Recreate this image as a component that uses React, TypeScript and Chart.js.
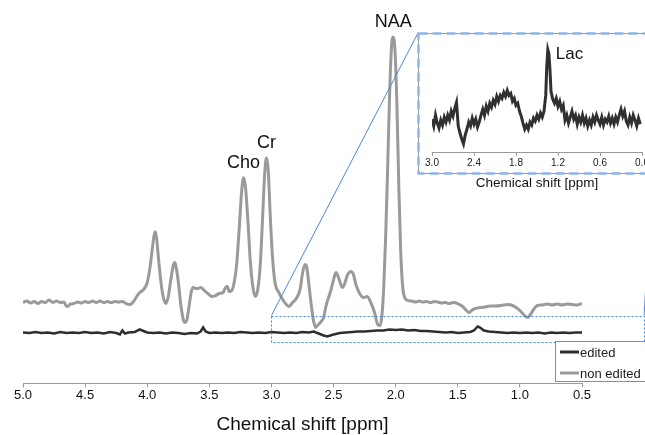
import React, { useEffect, useRef } from 'react';
import { Chart, registerables } from 'chart.js';
Chart.register(...registerables);

const FONT = '"Liberation Sans", Arial, Helvetica, sans-serif';

// ---------- DATA ----------
const seriesLabels = ['edited', 'non edited'];
const seriesColors = ['#2e2e2e', '#9a9a9a'];

const mainTickRange = [0.5, 5.0];
const mainTickStep = 0.5;
const insetTickRange = [0.0, 3.0];
const insetTickStep = 0.6;

// non edited spectrum (ppm, intensity a.u.)
const nonEditedPpm = [
  5.00, 4.97, 4.94, 4.91, 4.88, 4.85, 4.82, 4.79, 4.76, 4.73, 4.70, 4.67, 4.655, 4.64, 4.62, 4.59, 4.56, 4.53, 4.50, 4.47,
  4.44, 4.41, 4.38, 4.35, 4.32, 4.29, 4.26, 4.23, 4.20, 4.17, 4.14, 4.11, 4.08, 4.06, 4.03, 4.00, 3.98, 3.96, 3.945, 3.935,
  3.925, 3.91, 3.89, 3.87, 3.85, 3.83, 3.81, 3.79, 3.78, 3.77, 3.75, 3.73, 3.71, 3.695, 3.68, 3.66, 3.645, 3.63, 3.60, 3.57,
  3.54, 3.51, 3.48, 3.45, 3.42, 3.39, 3.37, 3.355, 3.34, 3.32, 3.30, 3.28, 3.26, 3.24, 3.225, 3.21, 3.19, 3.17, 3.15, 3.13,
  3.11, 3.09, 3.07, 3.055, 3.04, 3.025, 3.01, 2.99, 2.97, 2.94, 2.91, 2.88, 2.86, 2.83, 2.80, 2.77, 2.75, 2.73, 2.715, 2.70,
  2.68, 2.66, 2.645, 2.63, 2.60, 2.58, 2.56, 2.54, 2.52, 2.50, 2.48, 2.46, 2.43, 2.41, 2.39, 2.36, 2.34, 2.32, 2.29, 2.26,
  2.23, 2.20, 2.17, 2.145, 2.125, 2.11, 2.095, 2.08, 2.065, 2.05, 2.035, 2.02, 2.005, 1.99, 1.975, 1.96, 1.945, 1.93, 1.90, 1.87,
  1.84, 1.81, 1.78, 1.75, 1.72, 1.69, 1.66, 1.63, 1.60, 1.57, 1.54, 1.50, 1.46, 1.43, 1.41, 1.39, 1.36, 1.32, 1.28, 1.24,
  1.20, 1.15, 1.10, 1.07, 1.03, 1.00, 0.97, 0.94, 0.92, 0.89, 0.86, 0.82, 0.78, 0.74, 0.70, 0.66, 0.62, 0.58, 0.54, 0.50,
];
const nonEditedIntensity = [
  81, 82.5, 80.5, 82, 80, 82, 81, 83.5, 81, 82.5, 81, 81.5, 78, 77, 79.5, 80, 81.5, 80.5, 82, 81,
  82.5, 81, 82.5, 81, 82, 81, 82, 81.5, 82, 80, 79, 82, 88, 91, 94, 101, 114, 134, 148, 152,
  146, 126, 102, 86, 80, 87, 104, 118, 121, 118, 102, 79, 64, 61, 64, 80, 92, 96, 95, 96,
  93, 90, 87, 88, 90, 91, 96, 97, 92, 93, 101, 119, 154, 192, 206, 198, 164, 122, 97, 87,
  94, 119, 169, 209, 226, 212, 169, 124, 100, 91, 84, 79, 77, 81, 85, 94, 110, 119, 116, 101,
  79, 62, 56, 58, 62, 66, 78, 86, 94, 104, 111, 106, 96, 100, 108, 112, 109, 99, 90, 86,
  87, 81, 71, 59, 58, 69, 99, 149, 214, 284, 334, 347, 332, 279, 199, 134, 99, 87, 83, 82.5,
  81.5, 82.5, 81.5, 82, 81, 82, 81.5, 80.5, 81, 80, 81, 80, 77, 73, 71, 73, 75, 76, 76.5, 77.5,
  77.5, 78, 79, 78.5, 76, 73, 69, 66, 68, 74, 78, 78.5, 79.5, 78.5, 79.5, 78.5, 79.5, 79, 78.5, 80,
];

// edited spectrum (ppm, intensity a.u.)
const editedPpm = [
  5.00, 4.95, 4.90, 4.85, 4.80, 4.75, 4.70, 4.65, 4.60, 4.55, 4.50, 4.45, 4.40, 4.35, 4.30, 4.25, 4.22, 4.20, 4.18, 4.15,
  4.10, 4.06, 4.04, 4.00, 3.95, 3.90, 3.85, 3.80, 3.75, 3.70, 3.65, 3.60, 3.57, 3.55, 3.53, 3.50, 3.45, 3.40, 3.35, 3.30,
  3.25, 3.20, 3.15, 3.10, 3.05, 3.00, 2.95, 2.90, 2.85, 2.80, 2.75, 2.70, 2.66, 2.62, 2.58, 2.55, 2.50, 2.45, 2.40, 2.35,
  2.30, 2.25, 2.20, 2.15, 2.10, 2.05, 2.00, 1.95, 1.90, 1.85, 1.80, 1.75, 1.70, 1.65, 1.60, 1.55, 1.50, 1.45, 1.40, 1.37,
  1.34, 1.32, 1.29, 1.25, 1.20, 1.15, 1.10, 1.05, 1.00, 0.95, 0.90, 0.85, 0.80, 0.75, 0.70, 0.65, 0.60, 0.55, 0.50,
];
const editedIntensity = [
  51, 50.5, 51.5, 50.5, 51, 50, 51.5, 50.5, 51, 50.5, 51.5, 50.5, 51, 50, 51.5, 50.5, 49, 53, 50, 51,
  51.5, 54, 53, 51, 50.5, 51, 50, 51, 50.5, 49.5, 50.5, 50, 52, 56, 52, 50.5, 51, 50.5, 51, 50.5,
  51.5, 51, 50.5, 51, 50.5, 51.5, 51, 50.5, 51, 50.5, 51.5, 51, 52, 50, 48, 47, 49, 50.5, 51, 51.5,
  52, 52, 52.5, 53, 53, 54, 53.5, 54, 53, 53.5, 52.5, 52.5, 52, 51.5, 51, 51.5, 50.5, 51, 51.5, 53,
  57, 56, 53, 52, 51.5, 51, 50.5, 51, 50.5, 51, 50.5, 51, 50, 51, 50.5, 51, 50.5, 51, 51,
];

// zoomed edited spectrum shown in the inset
const insetPpm = [
  3.000, 2.975, 2.950, 2.925, 2.900, 2.875, 2.850, 2.825, 2.800, 2.775, 2.750, 2.725, 2.700, 2.675, 2.650, 2.625, 2.600, 2.575, 2.550, 2.525,
  2.500, 2.475, 2.450, 2.425, 2.400, 2.375, 2.350, 2.325, 2.300, 2.275, 2.250, 2.225, 2.200, 2.175, 2.150, 2.125, 2.100, 2.075, 2.050, 2.025,
  2.000, 1.975, 1.950, 1.925, 1.900, 1.875, 1.850, 1.825, 1.800, 1.775, 1.750, 1.725, 1.700, 1.675, 1.650, 1.625, 1.600, 1.575, 1.550, 1.525,
  1.500, 1.475, 1.450, 1.425, 1.400, 1.375, 1.360, 1.345, 1.330, 1.315, 1.300, 1.275, 1.250, 1.225, 1.200, 1.175, 1.150, 1.125, 1.100, 1.075,
  1.050, 1.025, 1.000, 0.975, 0.950, 0.925, 0.900, 0.875, 0.850, 0.825, 0.800, 0.775, 0.750, 0.725, 0.700, 0.675, 0.650, 0.625, 0.600, 0.575,
  0.550, 0.525, 0.500, 0.475, 0.450, 0.425, 0.400, 0.375, 0.350, 0.325, 0.300, 0.275, 0.250, 0.225, 0.200, 0.175, 0.150, 0.125, 0.100, 0.075,
  0.050, 0.025,
];
const insetIntensity = [
  34, 27, 38, 30, 25, 33, 28, 36, 31, 38, 33, 42, 37, 45, 51, 27, 20, 14, 9, 18,
  24, 31, 27, 35, 29, 34, 26, 31, 38, 44, 38, 47, 42, 50, 46, 53, 49, 57, 52, 58,
  55, 61, 57, 63, 58, 60, 52, 55, 48, 50, 42, 37, 30, 24, 28, 24, 31, 28, 35, 32,
  38, 34, 40, 36, 42, 58, 88, 104, 100, 84, 62, 54, 50, 55, 47, 52, 44, 48, 33, 38,
  30, 36, 42, 34, 38, 29, 36, 31, 38, 30, 35, 27, 33, 28, 36, 31, 38, 33, 29, 36,
  28, 34, 31, 37, 30, 35, 29, 36, 31, 38, 44, 37, 42, 32, 28, 36, 30, 38, 33, 27,
  35, 29,
];

const peakNames = ['Cho', 'Cr', 'NAA'];
const peakPpm = [3.225, 3.04, 2.02];
const insetPeakName = 'Lac';
const insetPeakPpm = 1.345;

// region of the main spectrum magnified in the inset (ppm, intensity)
const zoomBoxPpm = [3.0, 0.0];
const zoomBoxIntensity = [42, 68];

// ---------- LAYOUT ----------
const W = 645;
const H = 435;
const INSET_CANVAS = { left: 417, top: 30, width: 240, height: 163 };
const INSET_BORDER = { left: 418, top: 33, right: 652, bottom: 173 };

function nearestIndex(arr: number[], v: number) {
  let best = 0;
  for (let i = 1; i < arr.length; i++) if (Math.abs(arr[i] - v) < Math.abs(arr[best] - v)) best = i;
  return best;
}

const mainPlugin = {
  id: 'mainDecor',
  afterDatasetsDraw(chart: any) {
    const { ctx, scales } = chart;
    const xs = scales.x, ys = scales.y;
    ctx.save();
    // dotted zoom rectangle
    const x0 = xs.getPixelForValue(zoomBoxPpm[0]);
    const x1 = xs.getPixelForValue(zoomBoxPpm[1]);
    const yTop = ys.getPixelForValue(zoomBoxIntensity[1]);
    const yBot = ys.getPixelForValue(zoomBoxIntensity[0]);
    ctx.strokeStyle = '#3d85e0';
    ctx.lineWidth = 1;
    ctx.setLineDash([2, 2]);
    ctx.strokeRect(Math.round(x0) + 0.5, Math.round(yTop) + 0.5, Math.round(x1 - x0), Math.round(yBot - yTop));
    // connector lines to inset
    ctx.setLineDash([]);
    ctx.strokeStyle = '#4d86d4';
    ctx.beginPath();
    ctx.moveTo(x0, yTop);
    ctx.lineTo(INSET_BORDER.left, INSET_BORDER.top);
    ctx.moveTo(x1, yTop);
    ctx.lineTo(INSET_BORDER.right, INSET_BORDER.bottom);
    ctx.stroke();
    // peak labels
    const meta = chart.getDatasetMeta(1);
    ctx.fillStyle = '#111';
    ctx.font = `18px ${FONT}`;
    ctx.textAlign = 'center';
    ctx.textBaseline = 'middle';
    peakNames.forEach((name, i) => {
      const idx = nearestIndex(nonEditedPpm, peakPpm[i]);
      const pt = meta.data[idx];
      ctx.fillText(name, pt.x, pt.y - 14.5);
    });
    ctx.restore();
  },
  afterDraw(chart: any) {
    const { ctx } = chart;
    ctx.save();
    // legend box
    const bx = 555, by = 341, bh = 40;
    ctx.fillStyle = '#fff';
    ctx.fillRect(bx, by, 100, bh);
    ctx.strokeStyle = '#8c8c8c';
    ctx.lineWidth = 1;
    ctx.strokeRect(bx + 0.5, by + 0.5, 100, bh);
    ctx.font = `13px ${FONT}`;
    ctx.textAlign = 'left';
    ctx.textBaseline = 'middle';
    chart.data.datasets.forEach((ds: any, i: number) => {
      const y = by + 11 + i * 21;
      ctx.strokeStyle = ds.borderColor;
      ctx.lineWidth = 3;
      ctx.beginPath();
      ctx.moveTo(bx + 5, y);
      ctx.lineTo(bx + 24, y);
      ctx.stroke();
      ctx.fillStyle = '#1a1a1a';
      ctx.fillText(ds.label, bx + 25, y + 1);
    });
    ctx.restore();
  },
};

const insetPlugin = {
  id: 'insetDecor',
  afterDraw(chart: any) {
    const { ctx, scales } = chart;
    ctx.save();
    const l = INSET_BORDER.left - INSET_CANVAS.left;
    const t = INSET_BORDER.top - INSET_CANVAS.top;
    const w = INSET_BORDER.right - INSET_BORDER.left;
    const h = INSET_BORDER.bottom - INSET_BORDER.top;
    ctx.strokeStyle = '#9a9a9a';
    ctx.lineWidth = 1;
    ctx.strokeRect(l + 0.5, t + 0.5, w, h);
    ctx.strokeStyle = '#8db5e8';
    ctx.lineWidth = 2.5;
    ctx.setLineDash([9, 5]);
    ctx.strokeRect(l + 0.5, t + 0.5, w, h);
    ctx.setLineDash([]);
    // Lac label
    const meta = chart.getDatasetMeta(0);
    const idx = nearestIndex(insetPpm, insetPeakPpm);
    const pt = meta.data[idx];
    ctx.fillStyle = '#111';
    ctx.font = `17px ${FONT}`;
    ctx.textAlign = 'left';
    ctx.textBaseline = 'middle';
    ctx.fillText(insetPeakName, pt.x + 8, pt.y + 4);
    ctx.restore();
  },
};

export default function App() {
  const mainRef = useRef<HTMLCanvasElement>(null);
  const insetRef = useRef<HTMLCanvasElement>(null);

  useEffect(() => {
    document.body.style.margin = '0';
    const main = new Chart(mainRef.current as HTMLCanvasElement, {
      type: 'line',
      data: {
        datasets: [
          {
            label: seriesLabels[0],
            data: editedPpm.map((x, i) => ({ x, y: editedIntensity[i] })),
            borderColor: seriesColors[0],
            borderWidth: 2.5,
            pointRadius: 0,
            tension: 0,
          },
          {
            label: seriesLabels[1],
            data: nonEditedPpm.map((x, i) => ({ x, y: nonEditedIntensity[i] })),
            borderColor: seriesColors[1],
            borderWidth: 3,
            pointRadius: 0,
            cubicInterpolationMode: 'monotone',
          },
        ],
      },
      options: {
        animation: false,
        responsive: false,
        devicePixelRatio: 1,
        layout: { padding: { left: 23, right: 63, top: 10, bottom: 1 } },
        plugins: { legend: { display: false }, tooltip: { enabled: false } },
        scales: {
          x: {
            type: 'linear',
            reverse: true,
            min: mainTickRange[0],
            max: mainTickRange[1],
            ticks: {
              stepSize: mainTickStep,
              autoSkip: false,
              maxRotation: 0,
              padding: 0,
              color: '#111',
              font: { family: FONT, size: 13 },
              callback: (v: any) => Number(v).toFixed(1),
            },
            grid: { drawOnChartArea: false, drawTicks: true, tickLength: 4, color: '#9a9a9a' },
            border: { display: true, color: '#9a9a9a', width: 1 },
            title: {
              display: true,
              text: 'Chemical shift [ppm]',
              color: '#111',
              font: { family: FONT, size: 19, lineHeight: 1 },
              padding: { top: 12, bottom: 0 },
            },
          },
          y: { display: false, min: 0, max: 374 },
        },
      } as any,
      plugins: [mainPlugin],
    });

    const inset = new Chart(insetRef.current as HTMLCanvasElement, {
      type: 'line',
      data: {
        datasets: [
          {
            label: seriesLabels[0],
            data: insetPpm.map((x, i) => ({ x, y: insetIntensity[i] })),
            borderColor: '#303030',
            borderWidth: 3,
            pointRadius: 0,
            tension: 0,
          },
        ],
      },
      options: {
        animation: false,
        responsive: false,
        devicePixelRatio: 1,
        layout: { padding: { left: 15, right: 15, top: 4, bottom: 2 } },
        plugins: { legend: { display: false }, tooltip: { enabled: false } },
        scales: {
          x: {
            type: 'linear',
            reverse: true,
            min: insetTickRange[0],
            max: insetTickRange[1],
            ticks: {
              stepSize: insetTickStep,
              autoSkip: false,
              maxRotation: 0,
              padding: 1,
              color: '#222',
              font: { family: FONT, size: 10 },
              callback: (v: any) => Number(v).toFixed(1),
            },
            grid: { drawOnChartArea: false, drawTicks: true, tickLength: 3, color: '#9a9a9a' },
            border: { display: true, color: '#9a9a9a', width: 1 },
            title: {
              display: true,
              text: 'Chemical shift [ppm]',
              color: '#111',
              font: { family: FONT, size: 13.5 },
              padding: { top: 5, bottom: 0 },
            },
          },
          y: { display: false, min: 0, max: 120 },
        },
      } as any,
      plugins: [insetPlugin],
    });

    return () => {
      main.destroy();
      inset.destroy();
    };
  }, []);

  return (
    <div style={{ position: 'fixed', left: 0, top: 0, width: W, height: H, overflow: 'hidden', background: '#fff' }}>
      <canvas ref={mainRef} width={W} height={H} style={{ position: 'absolute', left: 0, top: 0 }} />
      <canvas
        ref={insetRef}
        width={INSET_CANVAS.width}
        height={INSET_CANVAS.height}
        style={{ position: 'absolute', left: INSET_CANVAS.left, top: INSET_CANVAS.top }}
      />
    </div>
  );
}
